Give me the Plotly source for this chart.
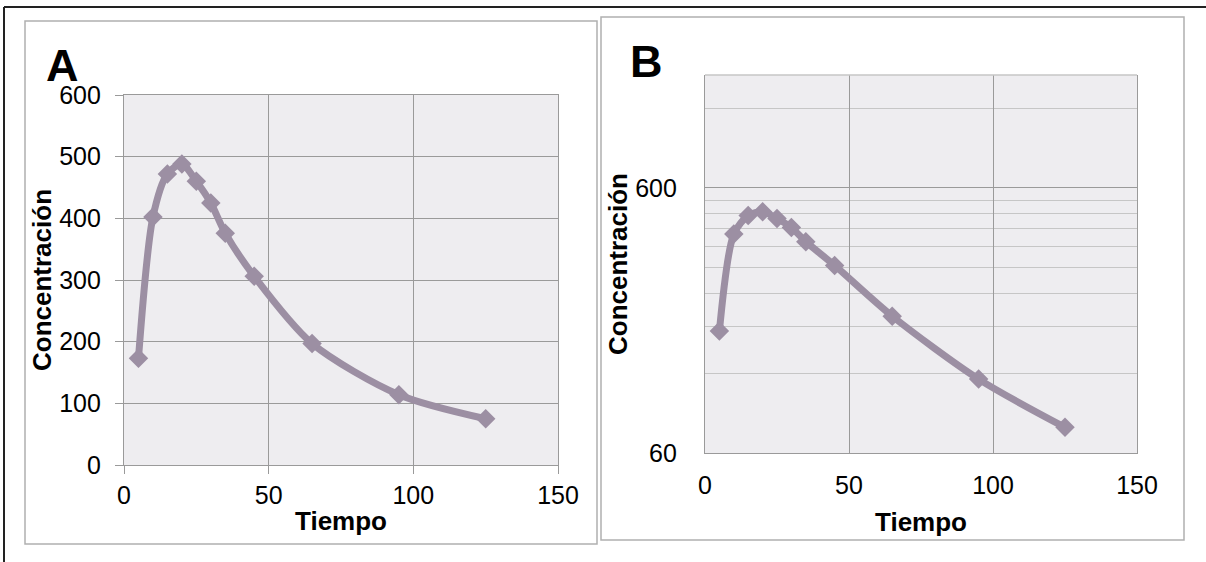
import numpy as np
import plotly.graph_objects as go

# Data
tiempo = [5, 10, 15, 20, 25, 30, 35, 45, 65, 95, 125]
concentracion = [173, 402, 472, 488, 460, 425, 376, 306, 197, 114, 75]

x_ticks = [0, 50, 100, 150]
a_y_ticks = [0, 100, 200, 300, 400, 500, 600]
b_y_major = [60, 600]
b_y_minor = [120, 180, 240, 300, 360, 420, 480, 540, 1200]

W, H = 1206, 562
def px(x):
    return x / W
def py(y):
    return 1 - y / H

LINE = "#9C8FA3"
BG = "#EEEDF0"
GRID = "#9A9A9A"
MINOR = "#C6C6C6"
FONT = "Liberation Sans, Arial, sans-serif"

fig = go.Figure()
for xa, ya in [("x", "y"), ("x2", "y2")]:
    fig.add_trace(go.Scatter(
        x=tiempo, y=concentracion, xaxis=xa, yaxis=ya,
        mode="lines+markers",
        line=dict(color=LINE, width=7, shape="spline", smoothing=0.8),
        marker=dict(symbol="diamond", size=15, color=LINE),
        showlegend=False, hoverinfo="skip",
    ))

tickfont = dict(family=FONT, size=25, color="#000000")
titlefont = dict(family=FONT, size=26, color="#000000", weight="bold")

fig.update_layout(
    width=W, height=H,
    margin=dict(l=0, r=0, t=0, b=0, autoexpand=False),
    paper_bgcolor="white",
    plot_bgcolor=BG,
    xaxis=dict(
        domain=[px(124), px(558)], range=[0, 150], anchor="y", automargin=False,
        tickmode="array", tickvals=x_ticks,
        showgrid=True, gridcolor=GRID, gridwidth=1.3,
        showline=True, linecolor=GRID, linewidth=1.3, mirror=True,
        ticks="outside", ticklen=8, tickcolor=GRID, tickwidth=1.3,
        tickfont=tickfont, zeroline=False,
        title=dict(text="Tiempo", font=titlefont, standoff=3),
    ),
    yaxis=dict(
        domain=[py(465), py(95)], range=[0, 600], anchor="x", automargin=False,
        tickmode="array", tickvals=a_y_ticks,
        showgrid=True, gridcolor=GRID, gridwidth=1.3,
        showline=True, linecolor=GRID, linewidth=1.3, mirror=True,
        ticks="outside", ticklen=8, tickcolor=GRID, tickwidth=1.3,
        ticklabelstandoff=9,
        tickfont=tickfont, zeroline=False,
        title=dict(text="Concentración", font=titlefont, standoff=0),
    ),
    xaxis2=dict(
        domain=[px(705), px(1137)], range=[0, 150], anchor="y2", automargin=False,
        tickmode="array", tickvals=x_ticks,
        showgrid=True, gridcolor=GRID, gridwidth=1.3,
        showline=True, linecolor=GRID, linewidth=1.3,
        ticks="", ticklabelstandoff=10,
        tickfont=tickfont, zeroline=False,
        title=dict(text="Tiempo", font=titlefont, standoff=14),
    ),
    yaxis2=dict(
        domain=[py(453), py(75)], type="log", automargin=False,
        range=[np.log10(60), np.log10(1600)], anchor="x2",
        tickmode="array", tickvals=b_y_major, ticktext=[str(v) for v in b_y_major],
        showgrid=True, gridcolor=GRID, gridwidth=1.3,
        showline=True, linecolor=GRID, linewidth=1.3, mirror=True,
        ticks="", ticklabelstandoff=22,
        minor=dict(tickmode="array", tickvals=b_y_minor, showgrid=True,
                   gridcolor=MINOR, gridwidth=1.3, ticks=""),
        tickfont=tickfont, zeroline=False,
        title=dict(text="Concentración", font=titlefont, standoff=0),
    ),
)

shapes = [
    # outer black frame (top and left)
    dict(type="line", xref="paper", yref="paper", x0=px(4), x1=1, y0=py(7), y1=py(7),
         line=dict(color="#222222", width=2)),
    dict(type="line", xref="paper", yref="paper", x0=px(4), x1=px(4), y0=py(7), y1=0,
         line=dict(color="#222222", width=2)),
    # panel boxes
    dict(type="rect", xref="paper", yref="paper", x0=px(25), x1=px(597), y0=py(544), y1=py(21),
         line=dict(color="#B0B0B0", width=1.5)),
    dict(type="rect", xref="paper", yref="paper", x0=px(601), x1=px(1184), y0=py(540), y1=py(17),
         line=dict(color="#B0B0B0", width=1.5)),
    # light top border of panel B plot area
    dict(type="line", xref="paper", yref="paper", x0=px(705), x1=px(1137), y0=py(75), y1=py(75),
         line=dict(color=MINOR, width=1.3), layer="above"),
]
fig.update_layout(shapes=shapes)

fig.add_annotation(text="<b>A</b>", xref="paper", yref="paper", x=px(62), y=py(66),
                   xanchor="center", yanchor="middle", showarrow=False,
                   font=dict(family=FONT, size=45, color="#000000"))
fig.add_annotation(text="<b>B</b>", xref="paper", yref="paper", x=px(647), y=py(62),
                   xanchor="center", yanchor="middle", showarrow=False,
                   font=dict(family=FONT, size=45, color="#000000"))

fig.write_html("out.html",
               config={"displayModeBar": False},
               post_script="document.body.style.margin='0px';document.body.style.overflow='hidden';")
